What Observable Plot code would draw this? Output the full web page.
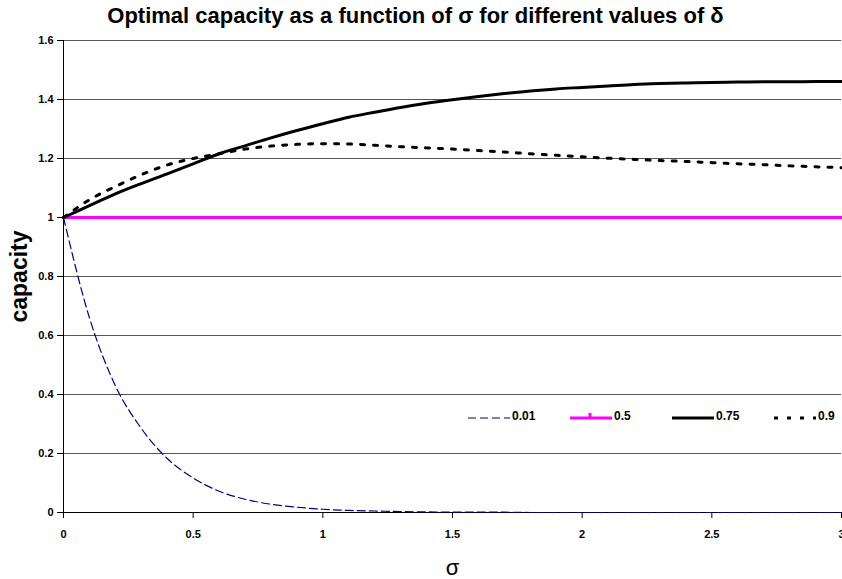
<!DOCTYPE html>
<html>
<head>
<meta charset="utf-8">
<script src="https://cdn.jsdelivr.net/npm/d3@7"></script>
<script src="https://cdn.jsdelivr.net/npm/@observablehq/plot@0.6"></script>
<style>
  html, body { margin: 0; padding: 0; background: #fff; }
  #wrap { position: relative; width: 842px; height: 579px; overflow: hidden; font-family: "Liberation Sans", Arial, sans-serif; }
  #title { height: 30px; line-height: 32px; text-align: center; font-family: "Liberation Sans", Arial, sans-serif; font-weight: bold; font-size: 22px; width: 831px; }
  #legend { position: absolute; top: 409px; left: 466px; display: flex; font-family: "Liberation Sans", Arial, sans-serif; font-weight: bold; font-size: 12px; }
  .item { display: flex; align-items: center; width: 102px; }
  .item svg { display: block; }
</style>
</head>
<body>
<div id="wrap">
  <div id="title">Optimal capacity as a function of σ for different values of δ</div>
  <div id="chart"></div>
  <div id="legend"></div>
</div>
<script>
// ---- data ----
const sigma = [0, 0.1, 0.2, 0.3, 0.4, 0.5, 0.6, 0.7, 0.8, 0.9, 1.0, 1.1, 1.2, 1.3, 1.4, 1.5,
               1.6, 1.7, 1.8, 1.9, 2.0, 2.1, 2.2, 2.3, 2.4, 2.5, 2.6, 2.7, 2.8, 2.9, 3.0];
const cap001 = [1, 0.66, 0.43, 0.285, 0.183, 0.117, 0.072, 0.045, 0.028, 0.018, 0.011, 0.007, 0.005, 0.003, 0.002, 0.001,
                0.001, 0.001, 0, 0, 0, 0, 0, 0, 0, 0, 0, 0, 0, 0, 0];
const cap05 = [1, 1, 1, 1, 1, 1, 1, 1, 1, 1, 1, 1, 1, 1, 1, 1,
               1, 1, 1, 1, 1, 1, 1, 1, 1, 1, 1, 1, 1, 1, 1];
const cap075 = [1, 1.04, 1.08, 1.115, 1.148, 1.182, 1.216, 1.243, 1.27, 1.295, 1.318, 1.34, 1.357, 1.373, 1.387, 1.399,
                1.41, 1.42, 1.429, 1.436, 1.441, 1.446, 1.451, 1.454, 1.456, 1.458, 1.459, 1.46, 1.46, 1.461, 1.461];
const cap09 = [1, 1.06, 1.105, 1.145, 1.178, 1.2, 1.216, 1.232, 1.242, 1.248, 1.25, 1.249, 1.245, 1.24, 1.236, 1.232,
               1.227, 1.222, 1.216, 1.211, 1.206, 1.201, 1.197, 1.193, 1.19, 1.186, 1.182, 1.179, 1.175, 1.172, 1.169];
const deltas = ["0.01", "0.5", "0.75", "0.9"];
const xTicks = [0, 0.5, 1, 1.5, 2, 2.5, 3];
const yTicks = [0, 0.2, 0.4, 0.6, 0.8, 1, 1.2, 1.4, 1.6];

const seriesValues = [cap001, cap05, cap075, cap09];
const styles = {
  "0.01": {stroke: "#000080", strokeWidth: 1.2, strokeDasharray: "8,4"},
  "0.5":  {stroke: "#ff00ff", strokeWidth: 3, strokeDasharray: null},
  "0.75": {stroke: "#000000", strokeWidth: 3, strokeDasharray: null},
  "0.9":  {stroke: "#000000", strokeWidth: 3, strokeDasharray: "4,9"}
};

const rows = deltas.map((d, i) => sigma.map((s, j) => ({delta: d, sigma: s, capacity: seriesValues[i][j]})));

const font = '"Liberation Sans", Arial, sans-serif';

const chart = Plot.plot({
  width: 842,
  height: 549,
  marginTop: 10,
  marginBottom: 67,
  marginLeft: 63,
  marginRight: 1,
  style: {fontFamily: font, fontSize: "11px", fontWeight: "bold", background: "#fff", overflow: "visible"},
  x: {domain: [0, 3]},
  y: {domain: [0, 1.6]},
  marks: [
    Plot.gridY(yTicks.filter(v => v > 0), {stroke: "#555", strokeOpacity: 1, strokeWidth: 1}),
    Plot.ruleY([0], {stroke: "#000", strokeWidth: 1}),
    Plot.ruleX([0], {stroke: "#000", strokeWidth: 1}),
    ...deltas.map((d, i) => Plot.line(rows[i], {x: "sigma", y: "capacity", curve: "monotone-x", ...styles[d]})),
    Plot.axisX({ticks: xTicks, tickSize: 6, tickPadding: 12, tickFormat: d => String(d), label: null, fill: "#000"}),
    Plot.axisY({ticks: yTicks, tickSize: 6, tickPadding: 4, tickFormat: d => String(d), label: null, fill: "#000"}),
    Plot.text(["capacity"], {text: d => d, frameAnchor: "left", textAnchor: "middle", rotate: -90, dx: -44, fontSize: 23, fontWeight: "bold", fontFamily: font}),
    Plot.text(["σ"], {text: d => d, frameAnchor: "bottom", dy: 62, fontSize: 22, fontWeight: "normal", fontFamily: font})
  ]
});
document.getElementById("chart").appendChild(chart);

// legend
const legend = document.getElementById("legend");
deltas.forEach(d => {
  const st = styles[d];
  const item = document.createElement("div");
  item.className = "item";
  const w = 44;
  let extra = "";
  if (d === "0.5") extra = `<rect x="${w/2 - 1.5}" y="4" width="3" height="4" fill="${st.stroke}"/>`;
  item.innerHTML = `<svg width="${w + 2}" height="14"><line x1="2" x2="${w}" y1="9" y2="9" stroke="${st.stroke}" stroke-width="${st.strokeWidth}" ${st.strokeDasharray ? `stroke-dasharray="${st.strokeDasharray}"` : ""}/>${extra}</svg><span>${d}</span>`;
  legend.appendChild(item);
});
</script>
</body>
</html>
